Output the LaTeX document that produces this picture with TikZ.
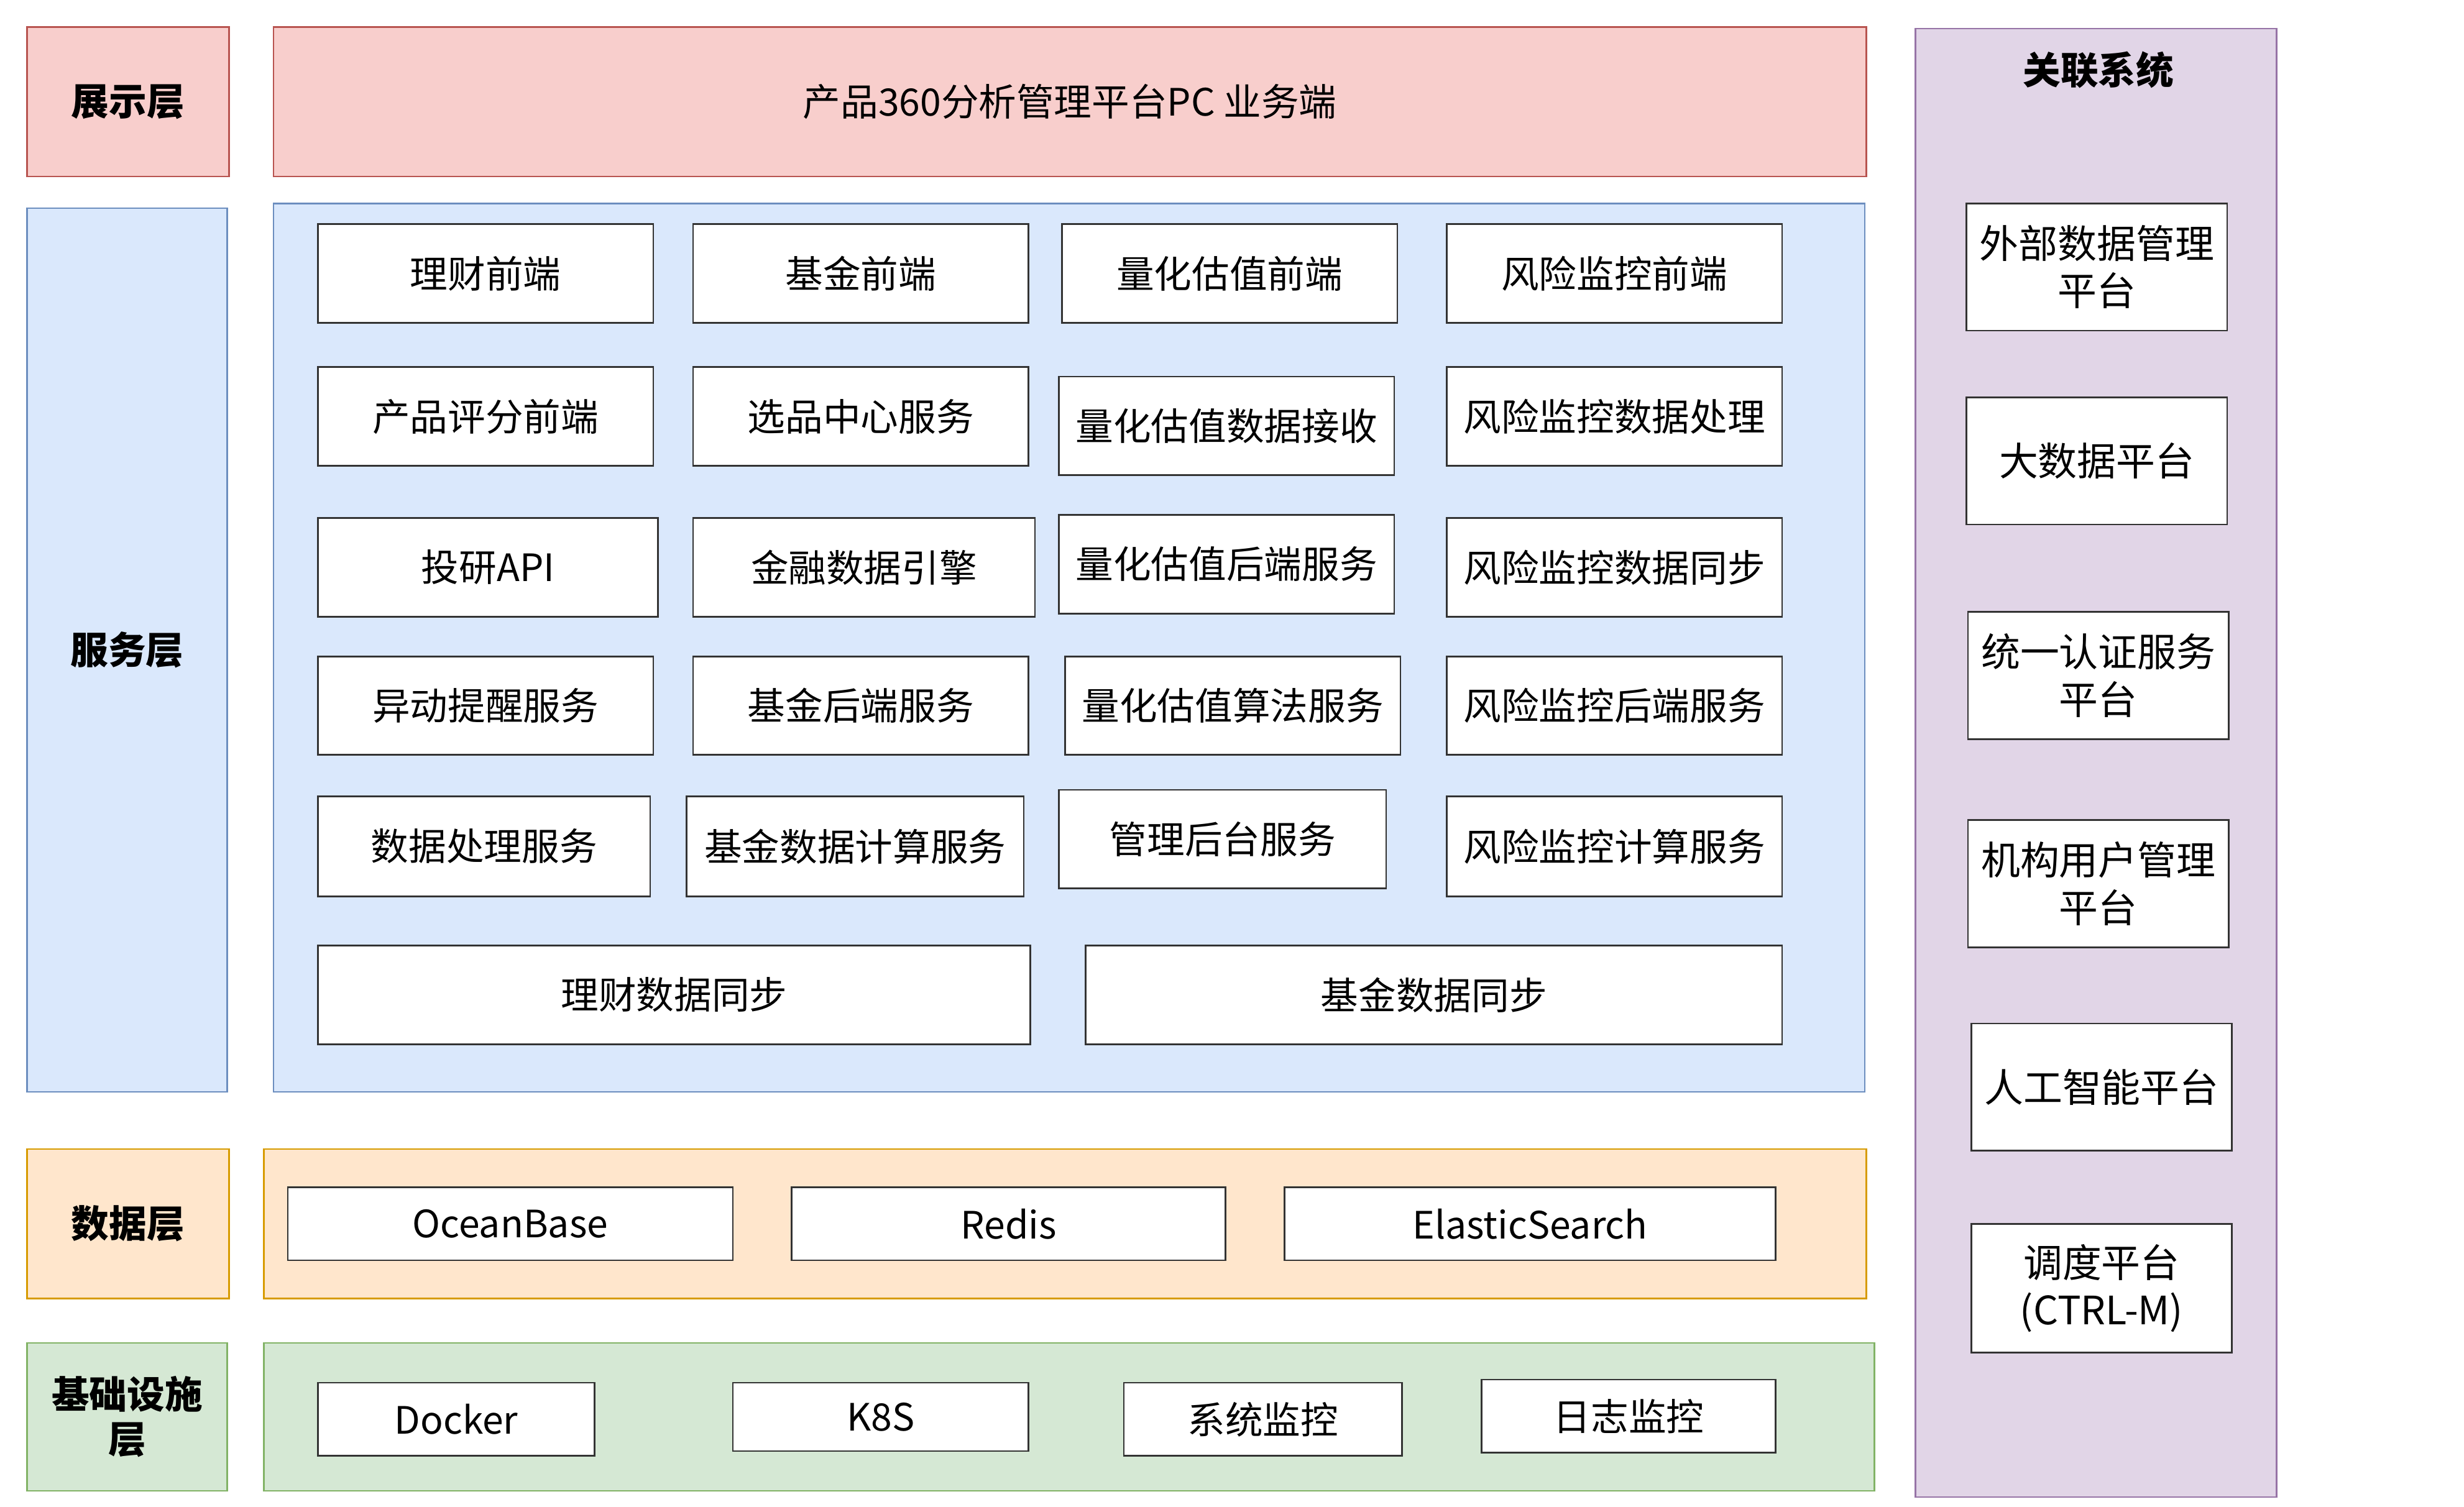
\documentclass[tikz,border=0pt]{standalone}
\usepackage{fontspec}
\setmainfont{Noto Sans CJK SC}
\definecolor{pkF}{HTML}{F8CECC}\definecolor{pkD}{HTML}{B85450}
\definecolor{blF}{HTML}{DAE8FC}\definecolor{blD}{HTML}{6C8EBF}
\definecolor{orF}{HTML}{FFE6CC}\definecolor{orD}{HTML}{D79B00}
\definecolor{grF}{HTML}{D5E8D4}\definecolor{grD}{HTML}{82B366}
\definecolor{puF}{HTML}{E1D5E7}\definecolor{puD}{HTML}{9673A6}
\newcommand{\bx}[7][box]{\node[#1,minimum width={(#5-#3)*0.02cm},minimum height={(#6-#4)*0.02cm}] (#2) at ({(#3+#5)/2},{(#4+#6)/2}) {#7};}
\tikzset{
 box/.style={draw=black!80,fill=white,line width=0.6pt,inner sep=0pt,align=center,font=\fontsize{13.5}{16}\selectfont},
 rbox/.style={box,font=\fontsize{14}{17}\selectfont},
 lay/.style={draw,line width=0.6pt,inner sep=0pt,align=center,font=\bfseries\fontsize{13.5}{16}\selectfont},
}
\begin{document}
\begin{tikzpicture}[x=0.02cm,y=-0.02cm]
\useasboundingbox (0,0) rectangle (1550,948);
\bx[lay,fill=pkF,draw=pkD]{l1}{17}{17}{144}{111}{展示层}
\bx[lay,fill=blF,draw=blD]{l2}{17}{131}{143}{687}{服务层}
\bx[lay,fill=orF,draw=orD]{l3}{17}{723}{144}{817}{数据层}
\bx[lay,fill=grF,draw=grD]{l4}{17}{845}{143}{938}{基础设施\\层}
\bx[lay,fill=pkF,draw=pkD,font=\fontsize{13.5}{16}\selectfont]{top}{172}{17}{1174}{111}{产品360分析管理平台PC 业务端}
\bx[lay,fill=blF,draw=blD]{svc}{172}{128}{1173}{687}{}
\bx[lay,fill=orF,draw=orD]{dat}{166}{723}{1174}{817}{}
\bx[lay,fill=grF,draw=grD]{inf}{166}{845}{1179}{938}{}
\bx[lay,fill=puF,draw=puD]{rel}{1205}{18}{1432}{942}{}
\node[font=\bfseries\fontsize{13.5}{16}\selectfont] (relt) at (1320,44) {关联系统};
\bx{a1}{200}{141}{411}{203}{理财前端}
\bx{a2}{436}{141}{647}{203}{基金前端}
\bx{a3}{668}{141}{879}{203}{量化估值前端}
\bx{a4}{910}{141}{1121}{203}{风险监控前端}
\bx{b1}{200}{231}{411}{293}{产品评分前端}
\bx{b2}{436}{231}{647}{293}{选品中心服务}
\bx{b3}{666}{237}{877}{299}{量化估值数据接收}
\bx{b4}{910}{231}{1121}{293}{风险监控数据处理}
\bx{c1}{200}{326}{414}{388}{投研API}
\bx{c2}{436}{326}{651}{388}{金融数据引擎}
\bx{c3}{666}{324}{877}{386}{量化估值后端服务}
\bx{c4}{910}{326}{1121}{388}{风险监控数据同步}
\bx{d1}{200}{413}{411}{475}{异动提醒服务}
\bx{d2}{436}{413}{647}{475}{基金后端服务}
\bx{d3}{670}{413}{881}{475}{量化估值算法服务}
\bx{d4}{910}{413}{1121}{475}{风险监控后端服务}
\bx{e1}{200}{501}{409}{564}{数据处理服务}
\bx{e2}{432}{501}{644}{564}{基金数据计算服务}
\bx{e3}{666}{497}{872}{559}{管理后台服务}
\bx{e4}{910}{501}{1121}{564}{风险监控计算服务}
\bx{f1}{200}{595}{648}{657}{理财数据同步}
\bx{f2}{683}{595}{1121}{657}{基金数据同步}
\bx{g1}{181}{747}{461}{793}{OceanBase}
\bx{g2}{498}{747}{771}{793}{Redis}
\bx{g3}{808}{747}{1117}{793}{ElasticSearch}
\bx{h1}{200}{870}{374}{916}{Docker}
\bx{h2}{461}{870}{647}{913}{K8S}
\bx{h3}{707}{870}{882}{916}{系统监控}
\bx{h4}{932}{868}{1117}{914}{日志监控}
\bx[rbox]{r1}{1237}{128}{1401}{208}{外部数据管理\\平台}
\bx[rbox]{r2}{1237}{250}{1401}{330}{大数据平台}
\bx[rbox]{r3}{1238}{385}{1402}{465}{统一认证服务\\平台}
\bx[rbox]{r4}{1238}{516}{1402}{596}{机构用户管理\\平台}
\bx[rbox]{r5}{1240}{644}{1404}{724}{人工智能平台}
\bx[rbox]{r6}{1240}{770}{1404}{851}{调度平台\\(CTRL-M)}
\end{tikzpicture}
\end{document}
